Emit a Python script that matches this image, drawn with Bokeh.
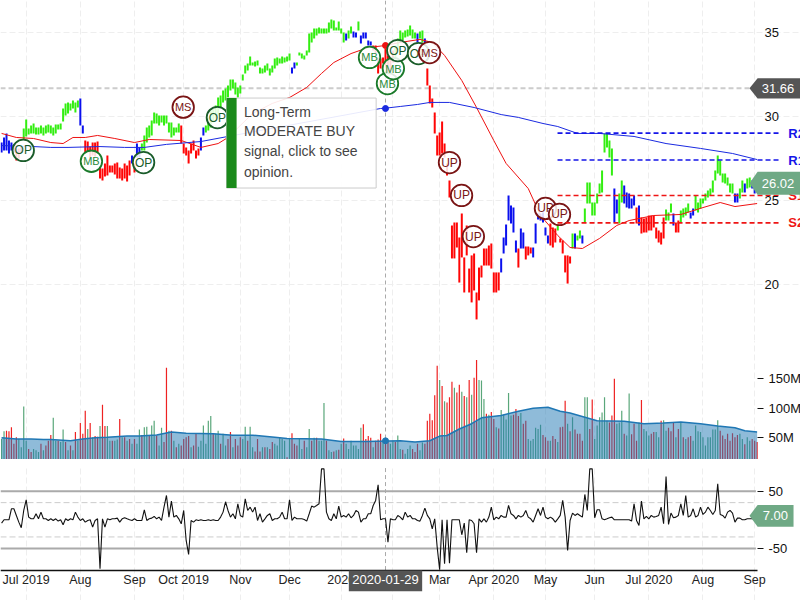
from bokeh.plotting import figure
from bokeh.layouts import column
from bokeh.embed import file_html
from bokeh.resources import INLINE
from bokeh.models import (Range1d, FixedTicker, Label, PolyAnnotation, BoxAnnotation)
from bokeh.core.properties import value

FONT = "Liberation Sans"

bar_index = list(range(-10, 298))

price_high = [
 28.44,28.74,28.98,28.56,28.44,28.32,28.09,28.09,28.2,29.27,
 29.81,29.27,29.45,29.57,29.33,29.33,29.45,29.33,29.45,29.51,
 29.45,29.33,29.51,29.51,29.57,30.46,30.76,30.82,30.76,30.94,
 30.82,30.94,31.05,29.45,28.56,28.50,28.2,28.44,28.44,28.5,
 26.96,26.9,27.2,27.67,27.08,27.08,27.2,27.26,26.96,26.9,
 27.2,27.08,27.37,27.67,27.2,28.38,28.15,28.38,28.86,29.33,
 29.45,29.75,30.22,30.16,30.05,30.05,30.05,30.05,29.63,29.63,
 29.33,29.33,29.57,29.45,28.38,28.15,27.97,28.38,28.56,27.97,
 28.09,28.74,29.33,29.45,29.93,30.34,30.46,30.64,31.11,31.23,
 31.53,31.65,31.83,32.18,32.18,32.0,31.71,31.83,32.48,33.01,
 33.13,33.55,33.19,33.25,33.31,32.89,32.83,33.01,33.13,32.83,
 33.01,33.43,33.49,33.43,33.55,33.49,33.55,33.72,32.89,33.19,
 33.19,33.78,33.72,33.61,33.9,34.91,34.97,35.21,35.21,35.27,
 35.21,35.21,35.21,35.56,35.74,35.68,35.27,35.62,35.21,34.97,
 34.91,35.09,35.33,35.03,34.97,35.62,34.79,34.97,34.97,34.5,
 34.44,34.2,34.2,33.49,33.43,33.49,34.02,33.61,33.49,33.9,
 34.2,34.62,35.09,34.97,35.09,35.15,35.39,35.15,34.97,34.91,
 35.03,35.09,34.62,32.83,31.83,31.05,30.22,28.86,29.04,29.69,
 28.38,27.2,26.19,23.52,23.69,23.69,22.8,24.23,21.62,23.52,
 20.96,21.74,21.86,19.54,21.02,21.14,22.15,22.15,22.33,22.45,
 20.73,20.73,20.73,21.56,22.8,23.58,25.3,24.7,24.58,22.63,
 22.15,23.34,23.1,22.27,22.27,22.21,22.21,23.64,24.23,24.23,
 24.29,23.4,22.92,23.64,23.4,23.34,23.52,22.75,22.63,21.74,
 21.74,21.68,23.04,23.04,22.92,23.22,22.92,24.52,26.07,26.07,
 24.88,24.88,25.42,26.01,26.78,28.98,28.98,28.56,28.09,25.71,
 25.06,25.42,26.19,25.89,25.47,25.42,25.12,25.3,24.58,24.7,
 23.99,23.93,23.99,24.11,24.11,24.11,23.4,23.22,23.1,23.99,
 24.47,24.29,24.82,24.23,23.69,23.81,24.41,24.52,24.58,24.82,
 24.29,24.52,25.3,24.88,25.12,25.12,25.42,25.59,25.71,26.19,
 26.78,27.67,27.37,26.6,26.6,26.36,26.01,26.01,25.42,25.42,
 25.71,26.19,26.01,26.31,26.36,26.19,26.07,26.07]

price_low = [
 27.85,27.97,27.97,27.79,27.97,27.85,27.37,27.49,27.85,28.61,
 28.8,28.92,28.98,28.98,28.92,28.92,28.98,28.86,28.98,29.04,
 28.98,28.86,28.98,29.21,29.21,29.69,30.05,30.16,30.34,30.46,
 30.22,30.52,29.45,28.98,27.85,27.91,27.49,27.67,27.61,27.85,
 26.31,26.19,26.42,26.48,26.66,26.66,26.54,26.31,26.31,26.19,
 26.31,26.13,26.48,27.2,26.66,27.55,27.55,27.97,27.97,28.44,
 28.74,28.86,29.57,29.57,29.45,29.63,29.45,29.57,29.04,28.74,
 28.86,29.04,29.04,28.38,27.79,27.67,27.2,27.79,27.97,27.49,
 27.67,27.97,28.86,29.04,29.15,29.33,29.63,29.87,30.05,30.46,
 30.82,30.94,31.11,31.53,31.65,31.29,31.11,31.35,32.12,32.54,
 32.72,33.01,33.01,32.95,33.01,32.54,32.54,32.6,32.72,32.42,
 32.6,32.83,33.01,33.13,33.13,33.19,33.25,33.31,32.54,32.83,
 33.01,33.61,33.43,33.37,33.61,33.78,34.38,34.62,34.79,34.91,
 34.91,34.91,34.91,34.97,35.21,35.09,35.09,35.09,34.91,34.38,
 34.5,34.62,34.91,34.67,34.67,35.09,34.32,34.62,34.62,34.2,
 34.2,33.9,33.72,32.54,32.83,33.13,33.01,32.42,32.6,33.19,
 33.31,33.9,34.38,34.5,34.67,34.73,34.79,34.62,34.62,34.38,
 34.62,34.38,34.26,31.83,30.76,30.52,28.98,27.67,27.67,27.79,
 27.55,26.48,25.18,21.56,21.56,22.21,20.13,21.62,19.54,21.74,
 19.54,18.95,19.66,17.94,19.07,20.43,21.14,21.14,21.14,20.96,
 19.54,19.54,19.66,20.73,21.86,22.33,23.81,23.64,23.1,21.91,
 21.02,22.15,22.15,21.5,21.74,21.86,21.62,22.45,23.87,23.81,
 23.69,22.92,22.45,22.33,22.21,22.51,23.22,22.51,21.86,20.73,
 20.07,21.26,22.15,22.15,22.63,22.75,22.45,23.69,24.82,24.82,
 24.11,24.11,24.82,25.42,25.47,27.85,28.15,27.55,26.48,23.69,
 24.23,23.64,24.88,24.82,24.58,24.52,24.52,24.7,23.64,23.52,
 23.04,23.1,23.1,23.22,23.22,23.4,22.75,22.51,22.39,22.75,
 23.81,23.81,24.29,23.52,23.1,23.1,23.69,23.99,24.11,24.29,
 23.93,24.11,24.41,24.29,24.52,24.82,25.0,25.18,25.3,25.47,
 26.19,26.6,26.48,26.07,26.01,25.89,25.47,25.42,24.88,24.88,
 25.12,25.47,25.47,25.71,25.77,25.71,25.42,25.59]

price_state = ("bbbbbbrrbg" "gggggggggg" "gggggggggg" "ggbbrrrrrr" "rrrrrrrrrr" "rrrbrbbggg"
  "gggggggggg" "gggrrrrrrr" "rbbggggggg" "gggggggggg" "gggggggggg" "ggggggggbb"
  "gggggggggg" "gggggggggg" "bggbbgbbbb" "brrrrrrrrr" "gggggggggb" "ggbrrrrrrr"
  "rrrrrrrrrr" "rrrrrrrrrr" "rrrbbbbbbb" "rbbrrrbbbb" "bbbrrrgrrr" "rrgbggbggg"
  "gggggggggb" "bggbbbbbrb" "rrrrrrrrrr" "gggbrrgggg" "bbgggggggg" "ggggggggbb" "ggbggbbg")

volume_m = [
 48,61,62,61,68,40,51,48,34,103,
 45,31,26,31,29,26,40,29,37,45,
 55,84,45,45,43,64,43,29,37,29,
 60,45,75,57,96,65,75,51,53,52,
 70,106,70,70,45,45,45,47,82,51,
 51,45,48,40,48,40,64,55,68,69,
 54,71,79,54,37,67,43,169,62,62,
 45,34,40,37,48,51,53,34,37,58,
 35,45,71,40,79,87,57,57,62,40,
 57,37,48,60,34,48,37,51,48,69,
 45,69,34,27,48,27,34,34,34,31,
 43,40,37,51,48,45,17,48,58,40,
 37,48,31,45,34,65,45,50,50,45,
 45,109,45,29,26,27,29,30,40,49,
 40,31,45,37,37,31,67,73,48,53,
 50,34,45,47,57,45,45,43,40,45,
 43,54,31,30,23,31,37,31,26,40,
 29,42,40,79,91,80,122,172,148,138,
 112,110,119,145,135,127,140,128,121,119,
 148,123,152,182,148,147,116,91,89,94,
 82,68,66,97,89,81,126,88,89,99,
 87,92,74,79,48,45,48,67,65,72,
 55,51,45,45,53,48,43,68,69,113,
 74,61,85,64,57,57,45,119,119,65,
 115,48,71,85,93,119,79,76,88,150,
 74,76,96,57,54,125,56,74,45,76,
 114,65,61,54,57,60,60,51,79,80,
 62,67,61,76,51,65,75,51,48,51,
 53,45,71,61,60,51,37,51,51,64,
 64,80,62,54,48,57,45,58,51,55,
 57,48,39,51,45,48,45,43]

volume_state = ("ggrrrrrggg" "grrgggrgrr" "rggrggrgrg" "rgrrrgrgrr" "grrggrggrg" "rgrgrggrgg"
  "rggrggrrgr" "grgrrrrgrr" "ggggggrggr" "ggrrgrrrgg" "rggrrrgrgr" "rgggggrgrr"
  "rggrggrgrg" "ggrggrgrgr" "gggggggrrr" "rgrrrgrrgg" "rggrgggrrr" "ggrrrrrrgr"
  "grrrgrrgrg" "rgrrgggrgr" "rgrgggggrr" "rgrrgggggg" "rrrgrrgrrr" "grgrrrrggr"
  "rggggggrrr" "gggrggrrrg" "rgggrrggrg" "grrrgrgrgr" "rggggggggg" "ggrrrrrrrr" "ggrggrrr")

cci_values = [
 -5.8,0,0,0,19.2,19.2,7.6,-4.1,-14,16.3,
 35,4.7,1.7,1.7,10.5,1.7,13.4,1.7,1.7,-1.2,
 1.7,-1.2,1.7,-2.3,0,-8.7,1.7,-1.2,1.7,0,
 13.4,4.7,-1.2,1.7,-4.1,-1.2,0,-12.8,-1.2,1.7,
 -85.7,1.7,-12.8,1.7,0,1.7,1.7,2.9,-4.1,1.7,
 3.5,1.7,0,-1.2,1.7,-1.2,-1.2,-1.2,17.5,-1.2,
 1.7,2.9,5.8,1.7,4.7,-1.2,22.1,42.5,4.7,32.6,
 4.7,7.6,1.7,-7,16.3,-36.1,-60.6,-1.2,-4.1,0,
 -1.2,0,-1.2,-1.2,0,-1.2,0,-1.2,-1.2,4.7,
 13.4,31.5,16.3,4.7,10.5,1.7,28,7.6,4.7,36.7,
 16.3,22.1,13.4,22.1,-1.2,10.5,-4.1,1.7,7.6,10.5,
 -1.2,1.7,1.7,4.7,13.4,1.7,1.7,35,-1.2,4.7,
 1.7,1.7,1.7,.6,-2.3,10.5,23.9,22.1,25,28,
 89,89,13.4,1.7,-1.2,10.5,1.7,23.9,4.7,7.6,
 4.7,10.5,3.5,7.6,16.3,13.4,-4.1,1.7,1.7,10.5,
 10.5,25,33.8,61.2,0,1.7,1.7,-39,1.7,0,
 0,7.6,4.7,0,13.4,4.7,7.6,1.7,1.7,-1.2,
 -2.3,7.6,20.4,7.6,1.7,-15.7,1.7,-47.8,-87.4,0,
 -76.9,0,-75.8,0,0,0,0,-26.2,-5.8,-57.7,
 0,-1.2,-7,-57.7,1.7,-4.1,1.7,-4.1,4.7,22.1,
 0,4.7,1.7,7.6,4.7,4.7,25,10.5,7.6,1.7,
 7.6,4.7,7.6,16.3,4.7,1.7,-4.1,7.6,19.2,7.6,
 22.1,4.7,1.7,4.7,1.7,-4.1,1.7,7.6,33.8,4.7,
 -53.6,-1.2,11.7,7.6,10.5,7.6,4.7,44.3,16.3,89,
 89,3.5,17.5,17.5,1.7,0,1.7,3.5,4.7,0,
 0,0,0,0,0,0,-2.3,28,-1.2,-9.9,
 32.6,1.7,5.8,1.7,7.6,4.7,5.8,7.6,22.1,-7,
 75.8,-8.2,11.7,3.5,4.7,7.6,28,7.6,42.5,4.7,
 7.6,19.2,4.7,7.6,22.1,9.3,13.4,22.1,16.3,9.3,
 16.3,62.9,9.3,7.6,2.9,13.4,16.3,11.7,-4.1,2.9,
 2.9,0,0,1.7,1.7,1.7,1.7,7]

ma_fast_x = [-10,-4,3,10,15,19,24,29,36,44,50,63,71,78,82,87,92,100,107,114,120,125,132,139,146,152,160,165,170,177,183,190,195,204,209,216,221,226,233,240,245,255,266,275,282,288,297]
ma_fast_y = [28.98,28.74,28.68,28.44,28.38,28.74,28.74,28.86,28.68,28.44,28.62,28.56,28.15,28.38,28.74,29.45,30.16,30.76,31.11,31.71,32.54,33.19,33.72,34.08,34.2,34.38,34.56,34.38,33.61,32.12,30.52,28.56,27.2,25.71,24.11,22.92,22.21,22.15,22.75,23.52,23.81,24.11,24.17,24.58,24.88,24.64,24.82]
ma_slow_x = [-10,3,10,17,30,40,48,57,71,82,144,146,152,159,164,172,182,193,200,210,216,224,233,247,260,274,287,297]
ma_slow_y = [28.26,28.2,28.15,28.15,28.2,28.15,28.15,28.33,28.5,28.8,30.46,30.48,30.58,30.7,30.82,30.82,30.52,30.1,29.93,29.57,29.39,28.98,28.98,28.8,28.38,28.09,27.79,27.43]
vol_ma_x = [-10,-4,2,7,10,18,23,28,33,41,46,53,59,65,76,84,92,101,106,120,128,138,152,158,164,168,171,176,181,185,193,200,206,212,217,221,227,232,243,251,259,266,274,281,288,292,297]
vol_ma_y = [50,48,48,47,47,45,48,50,51,53,53,55,60,58,57,54.5,54.5,51,49,48,44,44,45,43,45,53,54,65,74,84,88,95,100,102,95,92,85,79,78,74,75,77,74,70,67,62,60]

signal_x = [-1.2,26.5,47.7,63.8,77.7,139.5,146.8,149.2,151,159.4,163.9,172,176.9,181.7,211,216.7]
signal_y = [27.97,27.33,27.25,30.54,29.92,33.49,31.94,32.83,33.9,33.72,33.78,27.25,25.3,22.86,24.53,24.17]
signal_text = ["OP","MB","OP","MS","OP","MB","MB","MB","OP","OP","MS","UP","UP","UP","UP","UP"]

levels = [("R2",29.0,"#1515e8"),("R1",27.4,"#1515e8"),("S1",25.3,"#ee1515"),("S2",23.67,"#ee1515")]

x_ticks = [0,22,44,64,87,107,128,149,168,190,211,231,253,275,296]
x_labels = ["Jul 2019","Aug","Sep","Oct 2019","Nov","Dec","2020","Feb","Mar","Apr 2020","May","Jun","Jul 2020","Aug","Sep"]
price_ticks = [20,25,30,35]
volume_ticks = [50,100,150]
cci_ticks = [-50,50]
cursor_index = 146
tooltip_lines = ["Long-Term","MODERATE BUY","signal, click to see","opinion."]
tooltip_y = [30.24,29.1,27.91,26.72]

X0, XAXIS, X1 = -10.44, 297.15, 314.63
GRID = "#eeeeee"
BAR = {"g":"#33ee11","r":"#ff0505","b":"#0a10ee"}
VOL = {"g":"#5aa77a","r":"#ee2222"}
x_range = Range1d(X0, X1)

def base(height, y0, y1, y_bottom=None, top=0):
    y_start = y0 if y_bottom is None else y_bottom
    p = figure(frame_width=800, frame_height=height-top, x_range=x_range, y_range=Range1d(y_start, y1),
               output_backend="svg", toolbar_location=None, y_axis_location="right", tools="",
               min_border_left=0, min_border_right=0, min_border_top=top, min_border_bottom=0,
               outline_line_color=None, background_fill_color="white", border_fill_color="white")
    p.xgrid.ticker = FixedTicker(ticks=x_ticks)
    p.xgrid.bounds = (y0, y1)
    p.xgrid.grid_line_color = GRID
    p.xgrid.grid_line_dash = "6 3"
    p.ygrid.grid_line_color = None
    p.yaxis.fixed_location = XAXIS
    p.yaxis.axis_line_color = None
    p.yaxis.major_tick_in = 0
    p.yaxis.minor_tick_line_color = None
    p.yaxis.major_label_text_font = FONT
    p.yaxis.major_label_text_font_size = "13px"
    p.yaxis.major_label_text_color = "#111111"
    p.line([cursor_index, cursor_index], [y0, y1], line_color="#aaaaaa", line_width=1, line_dash="4 3")
    return p

def badge(p, y, half, text, color, right, text_x, size="13px"):
    p.add_layout(PolyAnnotation(xs=[293.9,297.2,right,right,297.2], ys=[y,y+half,y+half,y-half,y-half],
                                fill_color=color, fill_alpha=1, line_color=color, line_width=0))
    p.add_layout(Label(x=text_x, y=y, text=text, text_color="white", text_font=FONT, text_font_size=size,
                       text_align="center", text_baseline="middle"))

# ---------- price ----------
p1 = base(340, 16.69, 36.87)
p1.xaxis.visible = False
p1.ygrid.ticker = FixedTicker(ticks=price_ticks)
p1.ygrid.bounds = (X0, XAXIS)
p1.ygrid.grid_line_color = GRID
p1.ygrid.grid_line_dash = "6 3"
p1.yaxis.ticker = FixedTicker(ticks=price_ticks)
p1.yaxis.major_tick_out = 0
p1.yaxis.major_label_standoff = 7
p1.line([X0, 293.9], [31.66, 31.66], line_color="#cccccc", line_width=2, line_dash="5 3")
p1.segment(bar_index, price_low, bar_index, price_high, line_width=2, line_color=[BAR[s] for s in price_state])
p1.line(ma_fast_x, ma_fast_y, line_color="#ee1111", line_width=1)
p1.line(ma_slow_x, ma_slow_y, line_color="#1a2ae0", line_width=1)
p1.scatter([cursor_index], [34.2], size=6, color="#ee1111")
p1.scatter([cursor_index], [30.46], size=6, color="#1a2ae0")

dark = ["#7a1515" if t in ("MS","UP") else ("#1a7a2a" if t=="MB" else "#1a5c2a") for t in signal_text]
ink = ["#7a1515" if t in ("MS","UP") else ("#2a8a3a" if t=="MB" else "#1a5c2a") for t in signal_text]
for sx, sy, st, c, k in zip(signal_x, signal_y, signal_text, dark, ink):
    p1.scatter([sx], [sy], size=21.5, fill_color="white", fill_alpha=0.85, line_color=c, line_width=1.8)
    p1.text([sx], [sy], text=[st], text_color=k, text_font=value(FONT),
            text_font_size="11px" if st in ("MB","MS") else "12px", text_align="center", text_baseline="middle")

# tooltip
p1.quad(left=[81.4], right=[142.2], top=[31.08], bottom=[25.74], fill_color="white", fill_alpha=0.9,
        line_color="#cccccc", line_width=1)
p1.quad(left=[81.4], right=[85.5], top=[31.08], bottom=[25.74], fill_color="#1a8a1a", line_color="#1a8a1a", line_width=0)
p1.text([88.5]*4, tooltip_y, text=tooltip_lines, text_color="#444444", text_font=value(FONT),
        text_font_size="14px", text_align="left", text_baseline="middle")

for name, lvl, col in levels:
    p1.line([215.9, 306.5], [lvl, lvl], line_color=col, line_width=1.6, line_dash="5 3")
    p1.add_layout(Label(x=309.7, y=lvl, text=name, text_color=col, text_font=FONT, text_font_size="13px",
                        text_font_style="bold", text_baseline="middle"))

badge(p1, 31.66, 0.6, "31.66", "#555555", 316, 305.5)
badge(p1, 26.02, 0.68, "26.02", "#6fa985", 316, 305.5)

# ---------- volume ----------
p2 = base(119, 13.3, 215)
p2.xaxis.visible = False
p2.yaxis.ticker = FixedTicker(ticks=volume_ticks)
p2.yaxis.major_label_overrides = {50:"50M",100:"100M",150:"150M"}
p2.yaxis.major_tick_out = 6
p2.yaxis.major_tick_line_color = "#111111"
p2.yaxis.major_label_standoff = 5
p2.segment(bar_index, [13.3]*len(bar_index), bar_index, volume_m, line_width=1.2, line_color=[VOL[s] for s in volume_state])
p2.varea(vol_ma_x, [13.3]*len(vol_ma_x), vol_ma_y, fill_color="#1f77b4", fill_alpha=0.5)
p2.line(vol_ma_x, vol_ma_y, line_color="#1f77b4", line_width=1.5)
p2.scatter([cursor_index], [45], size=6, color="#1f77b4")

# ---------- cci ----------
CCI_LOW = -87.9
p3 = base(141, CCI_LOW, 94.9, y_bottom=-141.1, top=6)
p3.yaxis.ticker = FixedTicker(ticks=cci_ticks)
p3.yaxis.major_label_overrides = {-50:"-50",50:"50"}
p3.yaxis.major_tick_out = 6
p3.yaxis.major_tick_line_color = "#111111"
p3.yaxis.major_label_standoff = 5
p3.xaxis.fixed_location = CCI_LOW
p3.xaxis.bounds = (X0, XAXIS)
p3.xaxis.ticker = FixedTicker(ticks=x_ticks)
p3.xaxis.major_label_overrides = dict(zip(x_ticks, x_labels))
p3.xaxis.major_tick_in = 0
p3.xaxis.major_tick_out = 0
p3.xaxis.minor_tick_line_color = None
p3.xaxis.axis_line_color = "#111111"
p3.xaxis.axis_line_width = 1.5
p3.xaxis.major_label_text_font = FONT
p3.xaxis.major_label_text_font_size = "12.5px"
p3.xaxis.major_label_text_color = "#222222"
p3.xaxis.major_label_standoff = 3
for lv in (50, -50):
    p3.line([X0, 296.5], [lv, lv], line_color="#aaaaaa", line_width=2)
for lv in (30, -30):
    p3.line([X0, 296.5], [lv, lv], line_color="#cccccc", line_width=1, line_dash="6 3")
p3.line(bar_index, cci_values, line_color="#111111", line_width=1.1)
badge(p3, 7, 19, "7.00", "#6fa985", 311.8, 304.4)
p3.add_layout(BoxAnnotation(left=131.1, right=160.9, top=CCI_LOW-0.6, bottom=-124.8, fill_color="#555555",
                            fill_alpha=1, line_color="#555555", line_width=0))
p3.add_layout(Label(x=cursor_index, y=-104.4, text="2020-01-29", text_color="white", text_font=FONT,
                    text_font_size="13px", text_align="center", text_baseline="middle"))

page = column(p1, p2, p3, spacing=0, styles={"position":"absolute","left":"0px","top":"0px"})
open("out.html", "w").write(file_html(page, INLINE))
